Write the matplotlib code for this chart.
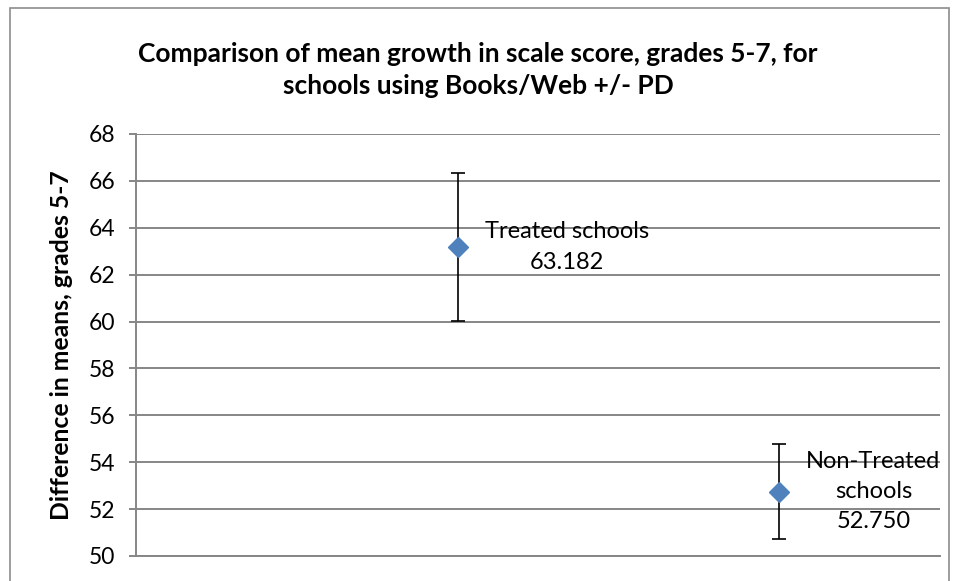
import matplotlib
matplotlib.use("Agg")
import matplotlib.pyplot as plt
from matplotlib.patches import Rectangle

plt.rcParams['font.family'] = ['Lato', 'DejaVu Sans']

# Data
groups = ["Treated schools", "Non-Treated\nschools"]
x_vals = [1, 2]
means = [63.182, 52.750]
errors = [3.15, 2.03]
y_ticks = [50, 52, 54, 56, 58, 60, 62, 64, 66, 68]

title = "Comparison of mean growth in scale score, grades 5-7, for\nschools using Books/Web +/- PD"
ylabel = "Difference in means, grades 5-7"

W, H = 958, 581
fig = plt.figure(figsize=(W / 100, H / 100), dpi=100)
ax = fig.add_axes([136 / W, 1 - 556 / H, (940 - 136) / W, (556 - 134) / H])

grid_c = "#868686"
ax.set_xlim(0, 2.5)
ax.set_ylim(50, 68)
ax.set_yticks(y_ticks)
ax.set_xticks([])
ax.yaxis.grid(True, color=grid_c, linewidth=1.4)
ax.set_axisbelow(True)
for s in ["top", "right"]:
    ax.spines[s].set_visible(False)
ax.spines["left"].set_color(grid_c)
ax.spines["left"].set_linewidth(1.4)
ax.spines["bottom"].set_color(grid_c)
ax.spines["bottom"].set_linewidth(1.4)
ax.tick_params(axis="y", length=5, width=1.4, color=grid_c, labelsize=16.5, pad=10)

ax.errorbar(x_vals, means, yerr=errors, fmt="none", ecolor="black",
            elinewidth=1.2, capsize=5, capthick=1.2, zorder=3)
ax.plot(x_vals, means, linestyle="none", marker="D", markersize=10,
        color="#4F81BD", markeredgecolor="#4F81BD", zorder=4)

for x, m, g in zip(x_vals, means, groups):
    ax.annotate(f"{g}\n{m:.3f}", xy=(x, m), xytext=(27, 0),
                textcoords="offset pixels", ha="left", va="center",
                multialignment="center",
                fontsize=17, linespacing=1.55, zorder=5)

fig.text(478 / W, 1 - 70 / H, title, ha="center", va="center",
         fontsize=19, fontweight="bold", linespacing=1.43)
fig.text(62 / W, 1 - 345 / H, ylabel, rotation=90, ha="center", va="center",
         fontsize=17.8, fontweight="bold")

fig.add_artist(Rectangle((9.5 / W, -0.05), (949 - 9.5) / W, 1 - 8 / H + 0.05,
                         transform=fig.transFigure, fill=False,
                         edgecolor="#8c8c8c", linewidth=1.2))

fig.savefig("out.png", dpi=100)
